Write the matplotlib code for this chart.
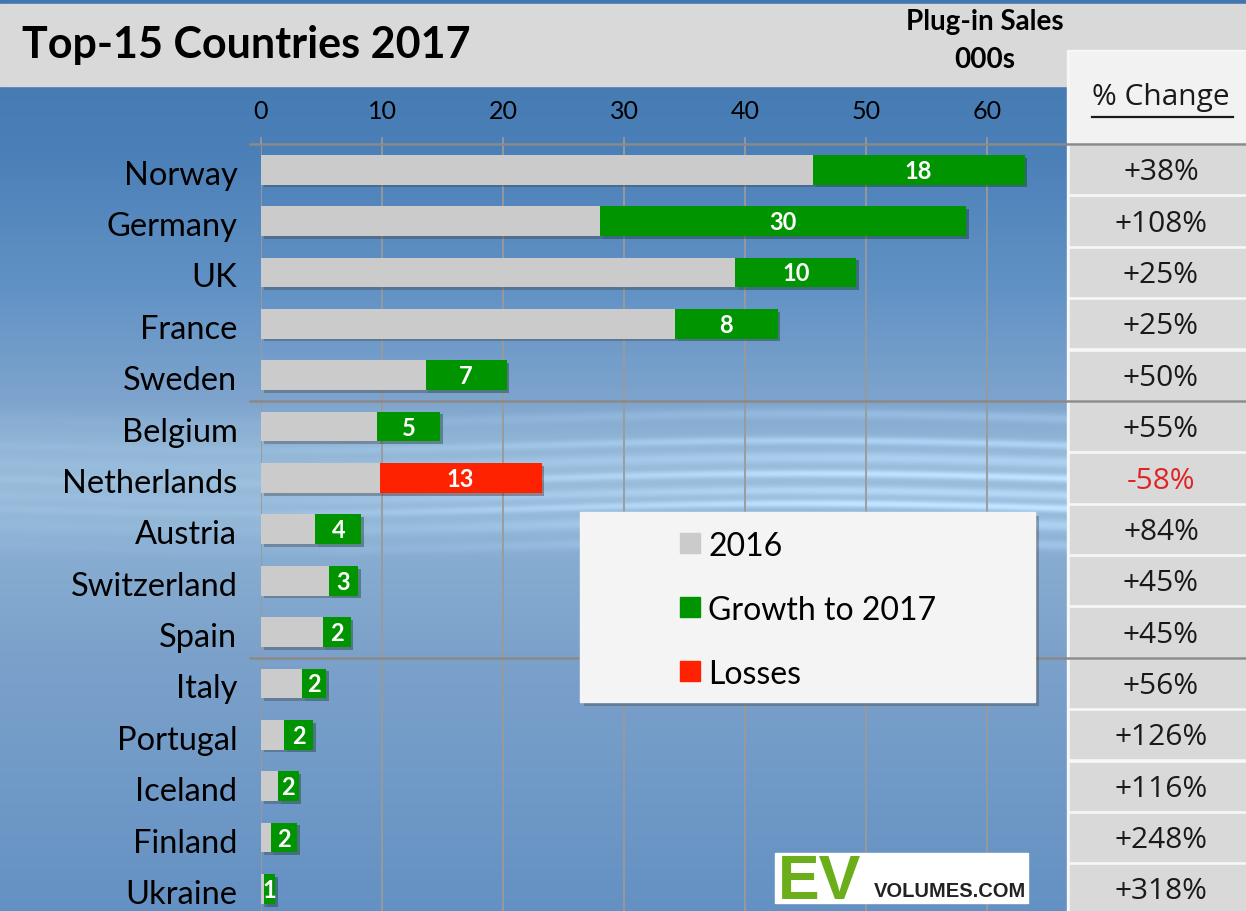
import numpy as np
import matplotlib
matplotlib.use('Agg')
import matplotlib.pyplot as plt
import matplotlib.patches as mpatches
import matplotlib.patheffects as pe
from matplotlib.transforms import blended_transform_factory, ScaledTranslation

# Data (thousand units)
countries = ['Norway', 'Germany', 'UK', 'France', 'Sweden', 'Belgium', 'Netherlands',
             'Austria', 'Switzerland', 'Spain', 'Italy', 'Portugal', 'Iceland', 'Finland', 'Ukraine']
sales_2016 = [45.6, 28.0, 39.2, 34.2, 13.6, 9.6, 23.2, 4.5, 5.6, 5.1, 3.4, 1.9, 1.4, 0.8, 0.28]
change = [17.5, 30.3, 10.0, 8.5, 6.7, 5.2, -13.4, 3.8, 2.4, 2.3, 2.0, 2.4, 1.7, 2.2, 0.9]
change_labels = ['18', '30', '10', '8', '7', '5', '13', '4', '3', '2', '2', '2', '2', '2', '1']
pct_change = ['+38%', '+108%', '+25%', '+25%', '+50%', '+55%', '-58%', '+84%', '+45%',
              '+45%', '+56%', '+126%', '+116%', '+248%', '+318%']
ticks = [0, 10, 20, 30, 40, 50, 60]

W, H = 1246, 911
MAIN = 'Lato'
GRAY_BAR = '#cbcbcb'
GREEN = '#009400'
RED = '#ff2200'


def fx(px):
    return px / W


def fy(py):
    return 1 - py / H


fig = plt.figure(figsize=(W / 100, H / 100), dpi=100)

# background gradient with light streaks
bg = fig.add_axes([0, 0, 1, 1], zorder=-10)
yk = [0, 150, 300, 400, 440, 480, 520, 560, 650, 911]
ck = np.array([(66, 118, 176), (74, 127, 183), (100, 148, 198), (126, 164, 205), (144, 180, 213),
               (152, 187, 218), (146, 182, 214), (134, 172, 209), (124, 162, 203), (100, 145, 195)])
yy = np.arange(H)
prof = np.stack([np.interp(yy, yk, ck[:, c]) for c in range(3)], axis=1)
img = np.repeat(prof[:, None, :], W, axis=1)
xx = np.arange(W)[None, :]
xw = np.clip((xx - 250) / 600, 0, 1) * 0.85 + 0.15
for yc, amp, wd in [(418, 18, 5), (445, 30, 4), (462, 25, 6), (478, 40, 4), (495, 30, 5),
                    (508, 45, 4), (525, 28, 6), (545, 20, 5)]:
    band = np.exp(-((yy[:, None] - yc - 5 * np.sin(xx / 170.0)) / wd) ** 2)
    img += (amp * band * xw)[:, :, None]
img = np.clip(img, 0, 255) / 255
bg.imshow(img, aspect='auto', extent=[0, W, H, 0])
bg.set_xlim(0, W)
bg.set_ylim(H, 0)
bg.axis('off')

# title band
fig.patches.append(mpatches.Rectangle((0, fy(86)), 1, fy(4) - fy(86), transform=fig.transFigure,
                                      color='#d9d9d9', zorder=-5))
fig.text(fx(22), fy(45), 'Top-15 Countries 2017', fontsize=31, fontweight='bold',
         family=MAIN, va='center', ha='left')
fig.text(fx(985), fy(22), 'Plug-in Sales', fontsize=20, fontweight='bold', family=MAIN,
         va='center', ha='center')
fig.text(fx(985), fy(60), '000s', fontsize=20, fontweight='bold', family=MAIN,
         va='center', ha='center')

# right column background (behind the chart axes)
fig.patches.append(mpatches.Rectangle((fx(1067), 0), 1 - fx(1067), fy(50), transform=fig.transFigure,
                                      color='#f7f7f7', zorder=-4))
fig.patches.append(mpatches.Rectangle((fx(1070), fy(144)), 1 - fx(1070), fy(52) - fy(144),
                                      transform=fig.transFigure, color='#f2f2f2', zorder=-4))

# main chart
ax = fig.add_axes([fx(261), 0, fx(1066) - fx(261), fy(144)])
ax.patch.set_alpha(0)
ax.set_xlim(0, (1066 - 261) / 12.1)
ax.set_ylim(14.43, -0.5)
for s in ax.spines.values():
    s.set_visible(False)

ax.xaxis.tick_top()
ax.set_xticks(ticks)
ax.set_xticklabels([str(t) for t in ticks], fontsize=18, family=MAIN)
ax.tick_params(axis='x', length=5, width=1.2, color='#9a9a9a', pad=10)
ax.set_yticks(range(len(countries)))
ax.set_yticklabels(countries, fontsize=23.5, family=MAIN)
ax.tick_params(axis='y', length=0, pad=17)
for lbl in ax.get_yticklabels():
    lbl.set_transform(lbl.get_transform() + ScaledTranslation(0, -0.03, fig.dpi_scale_trans))
for t in ticks:
    ax.axvline(t, color='#9a9a9a', lw=1.3, zorder=0)

shadow = [pe.SimplePatchShadow(offset=(2, -2), alpha=0.35), pe.Normal()]
for i, (base, ch, lab) in enumerate(zip(sales_2016, change, change_labels)):
    if ch >= 0:
        gray_w, seg_left, seg_w, col = base, base, ch, GREEN
    else:
        gray_w, seg_left, seg_w, col = base + ch, base + ch, -ch, RED
    b1 = ax.barh(i, gray_w, height=0.58, color=GRAY_BAR, zorder=2)
    b2 = ax.barh(i, seg_w, left=seg_left, height=0.58, color=col, zorder=2)
    for b in list(b1) + list(b2):
        b.set_path_effects(shadow)
    ax.text(seg_left + seg_w / 2, i + 0.03, lab, color='white', fontsize=17, fontweight='bold',
            family=MAIN, ha='center', va='center', zorder=3)

# % change cells
tr = blended_transform_factory(fig.transFigure, ax.transData)
for i, p in enumerate(pct_change):
    r = mpatches.Rectangle((fx(1070), i - 0.5 + 0.04), 1 - fx(1070), 0.92, transform=tr,
                           color='#d9d9d9', clip_on=False, zorder=1)
    ax.add_patch(r)
    ax.text(fx(1161), i + 0.06, p, transform=tr, fontsize=21.5, family='Open Sans', ha='center',
            va='center', color='#e02424' if p.startswith('-') else '#1a1a1a', zorder=3)
fig.text(fx(1161), fy(98), '% Change', fontsize=21.5, family='Open Sans', ha='center', va='center',
         color='#1a1a1a')
fig.lines.append(plt.Line2D([fx(1092), fx(1233)], [fy(117), fy(117)], transform=fig.transFigure,
                            color='#1a1a1a', lw=1.6))

# group separators
for yb in [-0.5, 4.5, 9.5]:
    ax.plot([fx(250), 1], [yb, yb], transform=tr, color='#8a8a8a', lw=1.8, clip_on=False, zorder=1.5)

# legend box
leg = mpatches.Rectangle((fx(580), fy(702)), fx(1035) - fx(580), fy(512) - fy(702),
                         transform=fig.transFigure, color='#f4f4f4', zorder=4)
leg.set_path_effects([pe.SimplePatchShadow(offset=(3, -3), alpha=0.4), pe.Normal()])
fig.patches.append(leg)
for yc, txt, col in [(543, '2016', GRAY_BAR), (607, 'Growth to 2017', GREEN), (671, 'Losses', RED)]:
    fig.patches.append(mpatches.Rectangle((fx(680), fy(yc + 10)), fx(20), fy(0) - fy(20),
                                          transform=fig.transFigure, color=col, zorder=5))
    fig.text(fx(708), fy(yc + 4), txt, fontsize=23, family=MAIN, ha='left', va='center', zorder=5)

# logo
fig.patches.append(mpatches.Rectangle((fx(775), fy(903)), fx(253), fy(0) - fy(50),
                                      transform=fig.transFigure, color='white', zorder=4))
fig.text(fx(778), fy(899), 'EV', fontsize=45, fontweight='bold', family='Liberation Sans',
         color='#6aae1a', ha='left', va='baseline', zorder=5)
fig.text(fx(874), fy(897), 'VOLUMES.COM', fontsize=14.5, fontweight='bold', family='Liberation Sans',
         color='#222222', ha='left', va='baseline', zorder=5)

fig.savefig('out.png', dpi=100)
